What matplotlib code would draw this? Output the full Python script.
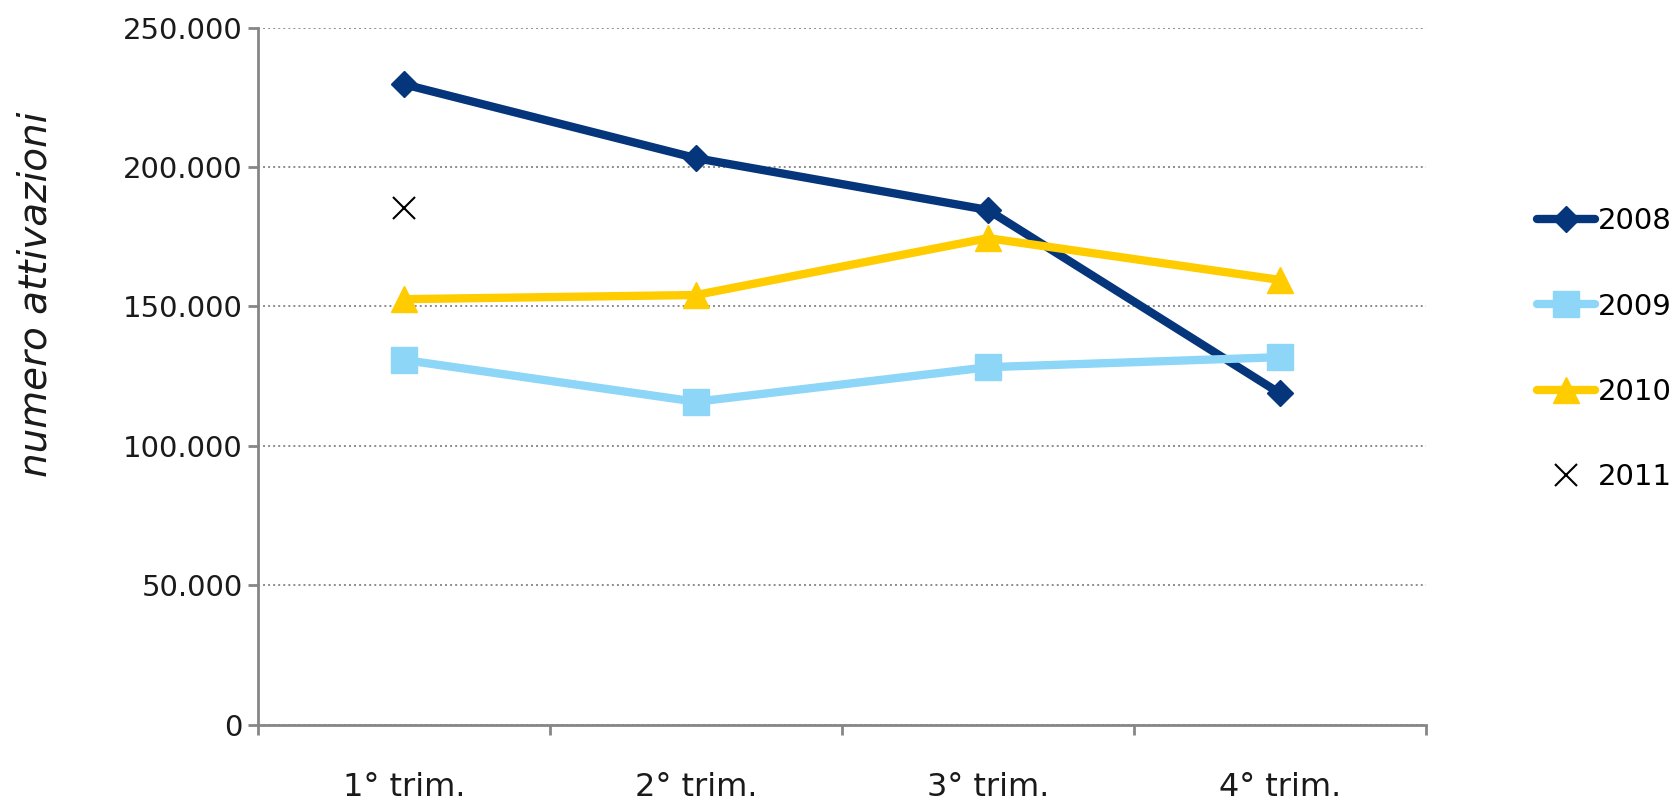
import matplotlib
matplotlib.use("Agg")
import matplotlib.pyplot as plt
from matplotlib.ticker import FuncFormatter, FixedLocator

categories = ["1° trim.", "2° trim.", "3° trim.", "4° trim."]
s2008 = [229700, 203200, 184600, 118800]
s2009 = [130800, 115800, 128200, 131800]
s2010 = [152600, 154100, 174500, 159500]
s2011 = [185200]
y_ticks = [0, 50000, 100000, 150000, 200000, 250000]
ylabel = "numero attivazioni"

plt.rcParams['font.family'] = ['DejaVu Sans']

fig = plt.figure(figsize=(16.73, 8.01), dpi=100)
ax = fig.add_axes([0.1542, 0.0955, 0.6982, 0.8699])

x = list(range(len(categories)))
navy = "#05357A"
light = "#8DD6F7"
yellow = "#FFCC00"

l1, = ax.plot(x, s2008, color=navy, lw=6, marker="D", ms=13, solid_capstyle="round", label="2008", zorder=3)
l2, = ax.plot(x, s2009, color=light, lw=6, marker="s", ms=19, solid_capstyle="round", label="2009", zorder=3)
l3, = ax.plot(x, s2010, color=yellow, lw=6, marker="^", ms=19, solid_capstyle="round", label="2010", zorder=3)
l4, = ax.plot(x[:len(s2011)], s2011, color="black", lw=0, marker="x", ms=16, mew=1.5, label="2011", zorder=3)

ax.set_xlim(-0.5, len(categories) - 0.5)
ax.set_ylim(0, 250000)
ax.set_yticks(y_ticks)
ax.yaxis.set_major_formatter(FuncFormatter(lambda v, p: f"{int(v):,}".replace(",", ".")))
ax.set_xticks(x)
ax.set_xticklabels(categories)
ax.xaxis.set_minor_locator(FixedLocator([i - 0.5 for i in range(len(categories) + 1)]))

ax.tick_params(axis="x", which="major", length=0, pad=34, labelsize=23, labelcolor="#1a1a1a")
ax.tick_params(axis="x", which="minor", length=7, width=2, color="#868686", direction="out")
ax.tick_params(axis="y", which="major", length=7, width=2, color="#868686", pad=4, labelsize=21, labelcolor="#1a1a1a")

for s in ["top", "right"]:
    ax.spines[s].set_visible(False)
for s in ["left", "bottom"]:
    ax.spines[s].set_color("#868686")
    ax.spines[s].set_linewidth(2)

ax.yaxis.grid(True, color="#8c8c8c", linestyle=(0, (1, 1.6)), linewidth=1.4)
ax.set_axisbelow(True)

fig.text(0.021, 1 - 294 / 801, ylabel, rotation=90, ha="center", va="center",
         fontsize=28, fontstyle="italic", color="#1a1a1a")

fig.legend(handles=[l1, l2, l3, l4], loc="center left", bbox_to_anchor=(0.9187, 0.564),
           frameon=False, fontsize=21, handlelength=2.0, handletextpad=0.1,
           labelspacing=1.97, borderpad=0, borderaxespad=0, markerscale=1.0)

fig.savefig("out.png", dpi=100)
